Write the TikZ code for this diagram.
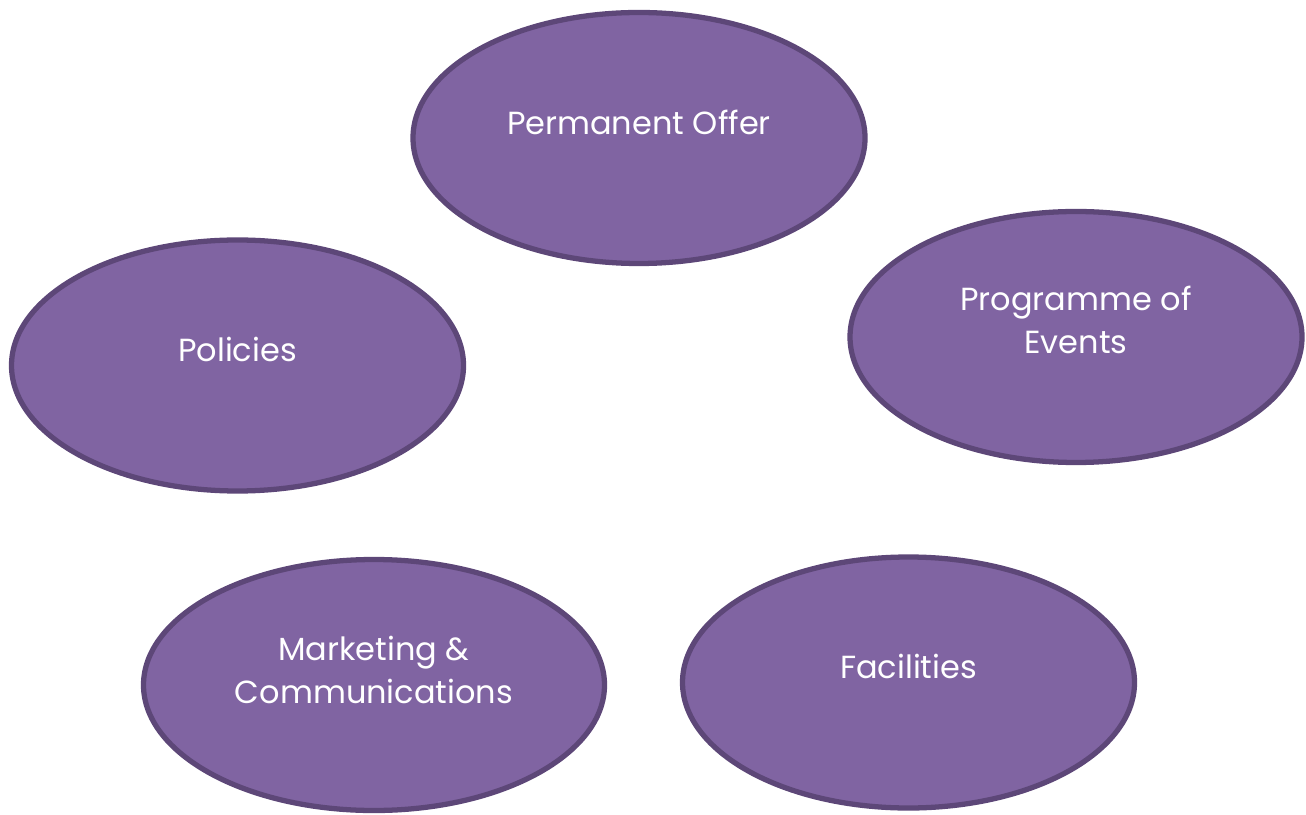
\documentclass[tikz,border=0pt]{standalone}
\usepackage{fontspec}
\setmainfont{Poppins}
\usetikzlibrary{shapes.geometric}
\definecolor{areafill}{HTML}{8064A2}
\definecolor{areaedge}{HTML}{5D4778}

\begin{document}
\begin{tikzpicture}[
	area/.style={ellipse, draw=areaedge, fill=areafill, line width=1.5pt,
		minimum width=4.52cm, minimum height=2.51cm},
	areatext/.style={text=white, align=center, font=\fontsize{9.1}{12.4}\selectfont}
	]
	\useasboundingbox (0,0) rectangle (13.06,-8.15);

	% the five ellipses
	\node[area] (offer) at (6.39,-1.38) {};
	\node[area] (events) at (10.76,-3.37) {};
	\node[area] (policies) at (2.375,-3.655) {};
	\node[area, minimum width=4.61cm] (marketing) at (3.74,-6.85) {};
	\node[area] (facilities) at (9.085,-6.825) {};

	% labels, sitting a little above centre
	\node[areatext] (offertxt) at ([yshift=0.16cm]offer.center) {Permanent Offer};
	\node[areatext] (eventstxt) at ([yshift=0.17cm]events.center) {Programme of\\Events};
	\node[areatext] (policiestxt) at ([yshift=0.16cm]policies.center) {Policies};
	\node[areatext] (marketingtxt) at ([yshift=0.15cm]marketing.center) {Marketing \&\\Communications};
	\node[areatext] (facilitiestxt) at ([yshift=0.16cm]facilities.center) {Facilities};
\end{tikzpicture}
\end{document}
